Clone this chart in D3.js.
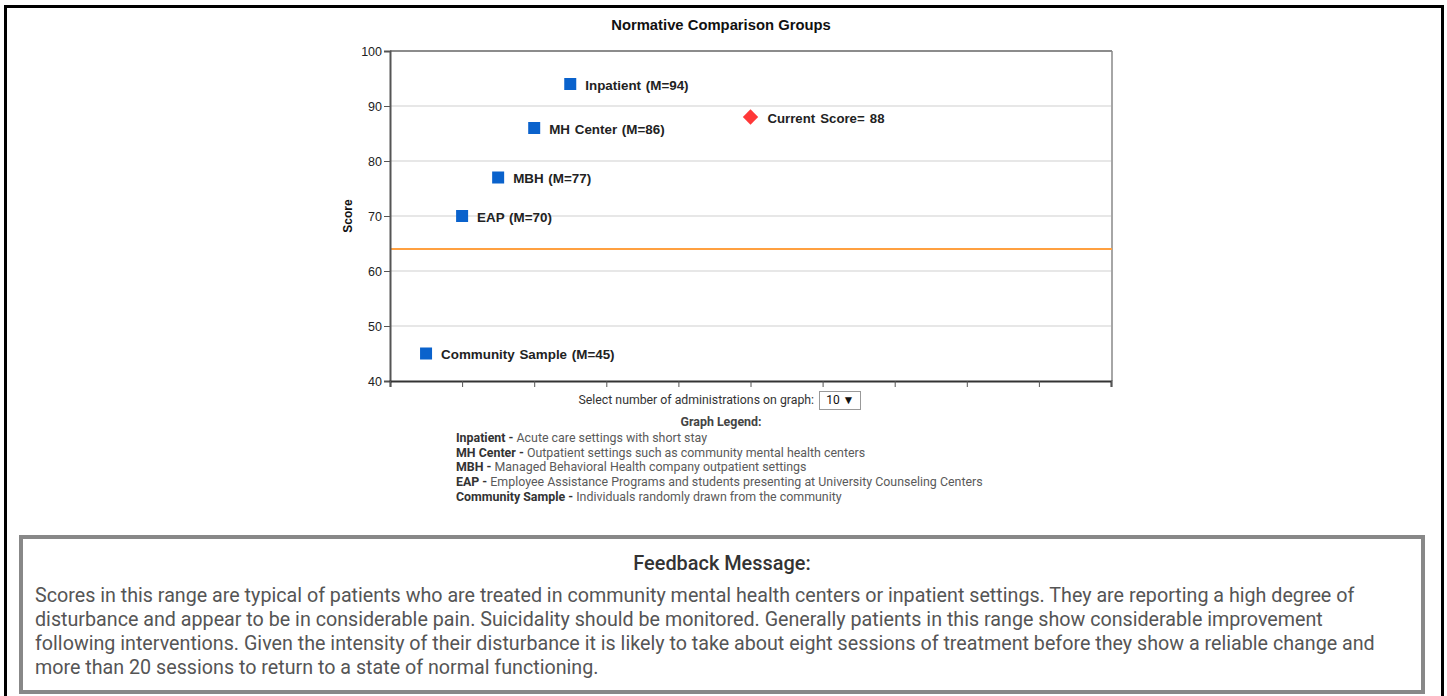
<!DOCTYPE html>
<html>
<head>
<meta charset="utf-8">
<script src="https://cdn.jsdelivr.net/npm/d3@7"></script>
<style>
  html, body { margin: 0; padding: 0; background: #fff; width: 1447px; height: 696px; overflow: hidden; }
  #frame { position: absolute; left: 4px; top: 5px; width: 1434px; height: 720px; border: 3px solid #000; border-bottom: none; }
  #chart { position: absolute; left: 0; top: 0; }
  .sel { position: absolute; left: 0; top: 391px; width: 1440px; text-align: center; font-family: Roboto, sans-serif; font-size: 12.3px; color: #333; }
  .sel .box { display: inline-block; border: 1px solid #999; padding: 0 6px 0 6px; height: 17px; line-height: 17px; margin-left: 2px; font-size: 12px; color: #111; }
  .legend { position: absolute; left: 456px; top: 415px; font-family: Roboto, sans-serif; font-size: 12.4px; color: #5a5a5a; line-height: 14.8px; }
  .legend .ttl { text-align: center; width: 530px; font-weight: bold; color: #444; margin-bottom: 1px; }
  .legend b { color: #333; }
  #fb { position: absolute; left: 19px; top: 535px; width: 1398px; height: 151px; border: 4px solid #888; font-family: Roboto, sans-serif; }
  #fb .h { position: absolute; left: 0; width: 100%; top: 13px; text-align: center; font-size: 19.9px; font-weight: 500; color: #333; }
  #fb .b { position: absolute; left: 12px; top: 45px; font-size: 19.7px; color: #555; line-height: 24px; white-space: nowrap; }
</style>
</head>
<body>
<div id="frame"></div>
<svg id="chart" width="1447" height="390"></svg>
<div class="sel">Select number of administrations on graph: <span class="box">10 &#9660;</span></div>
<div class="legend" id="legend"></div>
<div id="fb">
  <div class="h">Feedback Message:</div>
  <div class="b" id="fbtext"></div>
</div>
<script>
// ---- data ----
const groups = ["Community Sample", "EAP", "MBH", "MH Center", "Inpatient"];
const groupX = [0.5, 1, 1.5, 2, 2.5];
const groupMeans = [45, 70, 77, 86, 94];
const currentLabel = "Current Score";
const currentX = 5;
const currentScore = 88;
const cutoff = 64;
const yTicks = [40, 50, 60, 70, 80, 90, 100];
const xTicks = [0, 1, 2, 3, 4, 5, 6, 7, 8, 9, 10];
const legendTerms = ["Inpatient", "MH Center", "MBH", "EAP", "Community Sample"];
const legendDescs = [
  "Acute care settings with short stay",
  "Outpatient settings such as community mental health centers",
  "Managed Behavioral Health company outpatient settings",
  "Employee Assistance Programs and students presenting at University Counseling Centers",
  "Individuals randomly drawn from the community"
];
const feedbackLines = [
  "Scores in this range are typical of patients who are treated in community mental health centers or inpatient settings. They are reporting a high degree of",
  "disturbance and appear to be in considerable pain. Suicidality should be monitored. Generally patients in this range show considerable improvement",
  "following interventions. Given the intensity of their disturbance it is likely to take about eight sessions of treatment before they show a reliable change and",
  "more than 20 sessions to return to a state of normal functioning."
];

// ---- chart ----
const svg = d3.select("#chart");
const L = 390, R = 1111, T = 51, B = 381;
const x = d3.scaleLinear().domain([0, 10]).range([L, R]);
const y = d3.scaleLinear().domain([40, 100]).range([B, T]);
const font = "'Liberation Sans', Arial, sans-serif";

svg.append("text").attr("x", 721).attr("y", 30).attr("text-anchor", "middle")
  .attr("font-family", font).attr("font-weight", "bold").attr("font-size", 14.8).attr("fill", "#111")
  .text("Normative Comparison Groups");

// gridlines
svg.append("g").selectAll("line").data(yTicks.filter(d => d > 40 && d < 100)).join("line")
  .attr("x1", L).attr("x2", R).attr("y1", d => y(d)).attr("y2", d => y(d))
  .attr("stroke", "#d0d0d0").attr("stroke-width", 1.2);

// plot frame top/right
svg.append("line").attr("x1", L).attr("x2", R + 1).attr("y1", T).attr("y2", T).attr("stroke", "#666").attr("stroke-width", 1.5);
svg.append("line").attr("x1", R + 1).attr("x2", R + 1).attr("y1", T).attr("y2", B).attr("stroke", "#888").attr("stroke-width", 1.5);

// cutoff line
svg.append("line").attr("x1", L).attr("x2", R + 1).attr("y1", y(cutoff)).attr("y2", y(cutoff))
  .attr("stroke", "#ffa040").attr("stroke-width", 2);

// y axis
const yAxis = svg.append("g").attr("transform", `translate(${L},0)`)
  .call(d3.axisLeft(y).tickValues(yTicks).tickSize(6).tickPadding(2));
yAxis.select(".domain").attr("stroke", "#555").attr("stroke-width", 2);
yAxis.selectAll(".tick line").attr("stroke", "#555");
yAxis.selectAll(".tick text").attr("font-family", font).attr("font-size", 12.5).attr("fill", "#222");

// x axis
const xAxis = svg.append("g").attr("transform", `translate(0,${B})`)
  .call(d3.axisBottom(x).tickValues(xTicks).tickSize(6).tickFormat(""));
xAxis.select(".domain").attr("stroke", "#333").attr("stroke-width", 2);
xAxis.selectAll(".tick line").attr("stroke", "#555");

svg.append("text").attr("transform", `translate(352,${y(70)}) rotate(-90)`).attr("text-anchor", "middle")
  .attr("font-family", font).attr("font-weight", "bold").attr("font-size", 12).attr("fill", "#111").text("Score");

// group markers
const pts = groups.map((g, i) => ({ g, x: groupX[i], v: groupMeans[i] }));
svg.append("g").selectAll("rect").data(pts).join("rect")
  .attr("x", d => x(d.x) - 6).attr("y", d => y(d.v) - 6).attr("width", 12).attr("height", 12)
  .attr("fill", "#0a62cc");
svg.append("g").selectAll("text").data(pts).join("text")
  .attr("x", d => x(d.x) + 15).attr("y", d => y(d.v) + 5.5)
  .attr("font-family", font).attr("font-weight", "bold").attr("font-size", 13.4).attr("fill", "#222")
  .attr("word-spacing", 1)
  .text(d => `${d.g} (M=${d.v})`);

// current score
svg.append("path").attr("d", d3.symbol(d3.symbolDiamond2, 150))
  .attr("transform", `translate(${x(currentX)},${y(currentScore)})`).attr("fill", "#ff3838");
svg.append("text").attr("x", x(currentX) + 17).attr("y", y(currentScore) + 5.5)
  .attr("font-family", font).attr("font-weight", "bold").attr("font-size", 13.2).attr("fill", "#222")
  .attr("word-spacing", 1.5).text(`${currentLabel}= ${currentScore}`);

// legend
const lg = d3.select("#legend");
lg.append("div").attr("class", "ttl").text("Graph Legend:");
legendTerms.forEach((t, i) => {
  const row = lg.append("div");
  row.append("b").text(t + " - ");
  row.append("span").text(" " + legendDescs[i]);
});

// feedback
d3.select("#fbtext").selectAll("div").data(feedbackLines).join("div").text(d => d);
</script>
</body>
</html>
